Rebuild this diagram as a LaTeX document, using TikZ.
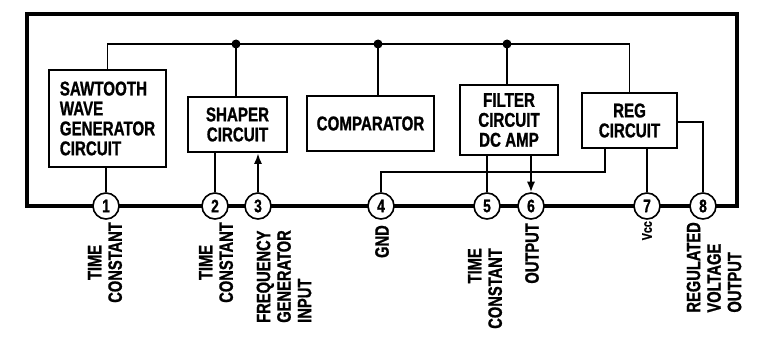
\documentclass[tikz,border=0pt]{standalone}
\usepackage{fontspec}
\newfontfamily\diafont{Liberation Sans}[FakeStretch=0.76, BoldFeatures={FakeBold=1}]
\usetikzlibrary{arrows.meta}
\newcommand{\px}{0.03cm}
\tikzset{
  block/.style={rectangle, draw=black, line width=2.4pt, align=center, inner sep=0pt, font=\diafont\bfseries\fontsize{17}{17}\selectfont},
  pin/.style={circle, draw=black, fill=white, line width=1.4pt, minimum size=26*\px, inner sep=0pt, font=\diafont\bfseries\fontsize{15.5}{15.5}\selectfont},
  pinlabel/.style={rotate=90, anchor=east, inner sep=0pt, align=center, font=\diafont\bfseries\fontsize{16.5}{17.5}\selectfont},
  wire/.style={line width=1.5pt},
  outline/.style={line width=3.4pt},
  junction/.style={circle, fill=black, minimum size=9*\px, inner sep=0pt},
  arrow/.style={wire,-{Latex[length=9pt,width=7pt]}}
}

\begin{document}
\begin{tikzpicture}[x=\px, y=-\px, >=latex]
  \useasboundingbox (0,0) rectangle (762,338);

  % 1. Package outline
  \draw[outline] (27,206) -- (27,14) -- (737,14) -- (737,206) -- cycle;

  % 2. Circuit blocks
  \node[block, minimum width=117*\px, minimum height=97*\px, align=left] (saw) at (107.5,118.5) {SAWTOOTH\\WAVE\\GENERATOR\\CIRCUIT};
  \node[block, minimum width=99*\px, minimum height=55*\px] (shaper) at (237.5,124.5) {SHAPER\\CIRCUIT};
  \node[block, minimum width=127*\px, minimum height=55*\px] (comp) at (370.5,123.5) {COMPARATOR};
  \node[block, minimum width=98*\px, minimum height=70*\px] (filter) at (509,120) {FILTER\\CIRCUIT\\DC AMP};
  \node[block, minimum width=95*\px, minimum height=55*\px] (reg) at (629.5,120.5) {REG\\CIRCUIT};

  % 3. Common bus
  \node[junction] (j1) at (236,44) {};
  \node[junction] (j2) at (378,44) {};
  \node[junction] (j3) at (507,44) {};
  \draw[wire] (saw.north) |- (j1.center) -- (j2.center) -- (j3.center) -| (reg.north);
  \draw[wire] (j1.center) -- (j1 |- shaper.north);
  \draw[wire] (j2.center) -- (j2 |- comp.north);
  \draw[wire] (j3.center) -- (j3 |- filter.north);

  % 4. Pins
  \foreach \n/\x in {1/106, 2/215, 3/258, 4/381, 5/487, 6/531, 7/647, 8/703}
    \node[pin] (p\n) at (\x,206) {\n};

  % 5. Pin connections
  \draw[wire] (p1.north) -- (p1 |- saw.south);
  \draw[wire] (p2.north) -- (p2 |- shaper.south);
  \draw[arrow] (p3.north) -- (p3 |- shaper.south);
  \coordinate (k4) at (605,172);
  \draw[wire] (p4.north) |- (k4) -- (k4 |- reg.south);
  \draw[wire] (p5.north) -- (p5 |- filter.south);
  \draw[arrow] (p6 |- filter.south) -- (p6.north);
  \draw[wire] (p7.north) -- (p7 |- reg.south);
  \coordinate (k8) at (703,122);
  \draw[wire] (reg.east |- k8) -| (p8.north);

  % 6. Pin labels
  \node[pinlabel] (l1) at (105,222) {TIME\\CONSTANT};
  \node[pinlabel] (l2) at (216,222) {TIME\\CONSTANT};
  \node[pinlabel, align=left] (l3) at (284,230) {FREQUENCY\\GENERATOR\\INPUT};
  \node[pinlabel] (l4) at (382,225) {GND};
  \node[pinlabel, align=right] (l5) at (485,248) {TIME\\CONSTANT};
  \node[pinlabel] (l6) at (532,223) {OUTPUT};
  \node[pinlabel, font=\diafont\bfseries\fontsize{12}{12}\selectfont] (l7) at (647,221) {Vcc};
  \node[pinlabel, align=left] (l8) at (714,222) {REGULATED\\VOLTAGE\\OUTPUT};

\end{tikzpicture}
\end{document}
